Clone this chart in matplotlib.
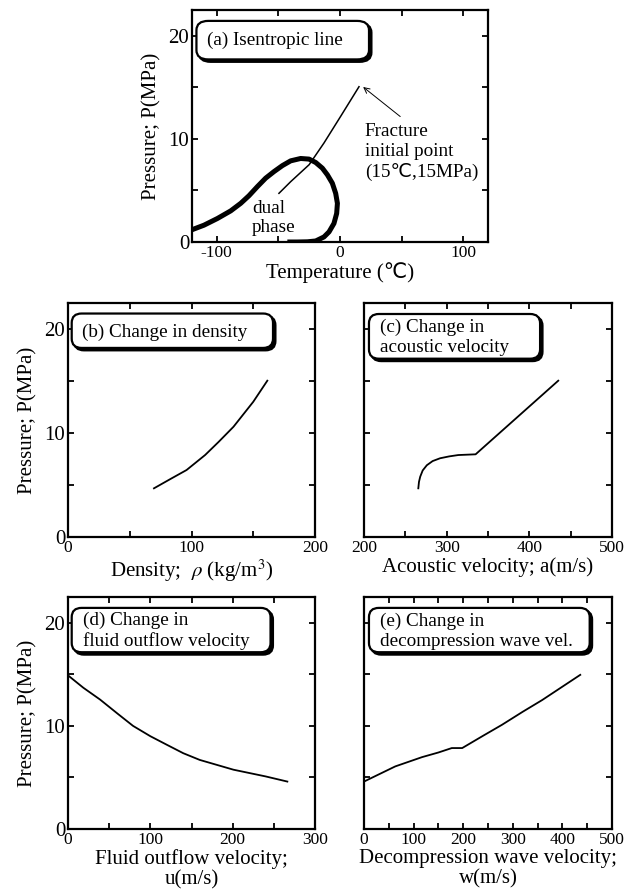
import matplotlib
matplotlib.use("Agg")
import matplotlib.pyplot as plt
from matplotlib.patches import FancyBboxPatch
import matplotlib.transforms as mtransforms

plt.rcParams['font.family'] = ['Liberation Serif', 'DejaVu Sans']
plt.rcParams['mathtext.fontset'] = 'stix'
plt.rcParams['axes.unicode_minus'] = False

# ---------------- data ----------------
# (a) isentropic line
iso_T = [-49.5, -40, -25, -13, 0.6, 15.4]
iso_P = [4.72, 5.85, 7.5, 9.6, 12.2, 15.06]
# (a) two-phase envelope (thick)
dome_T = [-121.1, -110.3, -99.4, -88.6, -80.5, -73.8, -67.0, -60.3, -53.5, -46.7,
          -40.0, -31.9, -25.1, -19.7, -14.3, -10.2, -6.2, -3.5, -2.1, -2.7,
          -4.9, -8.9, -13.0, -19.7, -26.4, -34.5, -42.7]
dome_P = [1.14, 1.63, 2.28, 3.02, 3.75, 4.49, 5.37, 6.19, 6.83, 7.41,
          7.87, 8.10, 8.04, 7.71, 7.16, 6.51, 5.70, 4.72, 3.75, 2.77,
          1.80, 0.98, 0.49, 0.10, 0.02, 0.0, 0.0]
# (b) density
rho = [69.6, 83, 96, 111, 122, 134, 150, 161.4]
rho_P = [4.68, 5.58, 6.44, 7.88, 9.15, 10.6, 13.0, 15.03]
# (c) acoustic velocity
a_vel = [265.7, 266.5, 268, 271, 276, 283, 292, 303, 314, 335, 435]
a_P = [4.68, 5.3, 5.8, 6.4, 6.9, 7.3, 7.57, 7.75, 7.88, 7.95, 15.03]
# (d) fluid outflow velocity
u_vel = [0, 18.6, 39, 60, 79, 100, 120, 140, 160, 201, 240, 266.4]
u_P = [14.9, 13.7, 12.55, 11.2, 10.0, 9.0, 8.17, 7.35, 6.7, 5.75, 5.1, 4.6]
# (e) decompression wave velocity
w_vel = [0, 63, 117, 150, 177, 198, 240, 278, 320, 359, 436]
w_P = [4.6, 6.07, 6.97, 7.42, 7.85, 7.85, 9.04, 10.1, 11.37, 12.5, 14.95]

W, H = 638, 893
fig = plt.figure(figsize=(W / 100, H / 100), dpi=100)

LABFS = 15
BOXFS = 13.8


def make_ax(l, r, t, b):
    return fig.add_axes([l / W, 1 - b / H, (r - l) / W, (b - t) / H])


def style(ax, xlim, xmaj, xmin_, ylim=(0, 22.5)):
    ax.set_xlim(*xlim)
    ax.set_ylim(*ylim)
    ax.set_xticks(xmaj)
    ax.set_xticks(xmin_, minor=True)
    ax.set_yticks([0, 10, 20])
    ax.set_yticks([5, 15], minor=True)
    for s in ax.spines.values():
        s.set_linewidth(1.6)
    ax.tick_params(which='both', direction='in', top=True, right=True,
                   length=4.5, width=1.3)
    ax.tick_params(axis='x', labelsize=12.5, pad=2)
    ax.tick_params(axis='y', labelsize=15, pad=2)


def label_box(ax, x0, y0, x1, y1, text, tx, ty):
    sh = mtransforms.offset_copy(ax.transAxes, fig=fig, x=2.4, y=-2.4, units='dots')
    shadow = FancyBboxPatch((x0, y0), x1 - x0, y1 - y0,
                            boxstyle="round,pad=0,rounding_size=0.04",
                            transform=sh, facecolor='black', edgecolor='black',
                            linewidth=1.6, zorder=5)
    box = FancyBboxPatch((x0, y0), x1 - x0, y1 - y0,
                         boxstyle="round,pad=0,rounding_size=0.04",
                         transform=ax.transAxes, facecolor='white', edgecolor='black',
                         linewidth=1.6, zorder=6)
    ax.add_patch(shadow)
    ax.add_patch(box)
    ax.text(tx, ty, text, transform=ax.transAxes, fontsize=BOXFS, va='center',
            ha='left', zorder=7, linespacing=1.2)


ylab = 'Pressure; P(MPa)'

# ---- (a)
axa = make_ax(192, 488, 10, 242)
style(axa, (-120, 120), [-100, 0, 100], [-50, 50])
axa.plot(dome_T, dome_P, color='black', lw=3.6, solid_joinstyle='round',
         solid_capstyle='butt')
axa.plot(iso_T, iso_P, color='black', lw=1.1)
axa.set_xlabel('Temperature (℃)', fontsize=LABFS, labelpad=1)
axa.set_ylabel(ylab, fontsize=LABFS, labelpad=5)
label_box(axa, 0.015, 0.787, 0.598, 0.953, '(a) Isentropic line', 0.05, 0.87)
axa.annotate('', xy=(17, 15.2), xytext=(50.6, 12.0),
             arrowprops=dict(arrowstyle='->', lw=0.7, color='black',
                             mutation_scale=10))
axa.text(20, 11.5, 'Fracture\ninitial point\n(15℃,15MPa)', fontsize=BOXFS,
         va='top', ha='left', linespacing=1.2)
axa.text(-71.5, 4.1, 'dual\nphase', fontsize=BOXFS, va='top', ha='left',
         linespacing=1.2)

# ---- (b)
axb = make_ax(68, 315, 303, 537)
style(axb, (0, 200), [0, 100, 200], [50, 150])
axb.plot(rho, rho_P, color='black', lw=1.3)
axb.set_xlabel(r'Density;  $\rho$ (kg/m$^3$)', fontsize=LABFS, labelpad=1)
axb.set_ylabel(ylab, fontsize=LABFS, labelpad=5)
label_box(axb, 0.015, 0.808, 0.83, 0.955, '(b) Change in density', 0.055, 0.875)

# ---- (c)
axc = make_ax(364, 612, 303, 537)
style(axc, (200, 500), [200, 300, 400, 500], [250, 350, 450])
axc.tick_params(axis='y', labelleft=False)
axc.plot(a_vel, a_P, color='black', lw=1.3)
axc.set_xlabel('Acoustic velocity; a(m/s)', fontsize=LABFS, labelpad=1)
label_box(axc, 0.02, 0.762, 0.71, 0.953, '(c) Change in\nacoustic velocity', 0.065, 0.853)

# ---- (d)
axd = make_ax(68, 315, 597, 829)
style(axd, (0, 300), [0, 100, 200, 300], [50, 150, 250])
axd.plot(u_vel, u_P, color='black', lw=1.3)
axd.set_xlabel('Fluid outflow velocity;\nu(m/s)', fontsize=LABFS, labelpad=1,
               linespacing=1.05)
axd.set_ylabel(ylab, fontsize=LABFS, labelpad=5)
label_box(axd, 0.015, 0.762, 0.82, 0.953, '(d) Change in\nfluid outflow velocity', 0.062, 0.853)

# ---- (e)
axe = make_ax(364, 612, 597, 829)
style(axe, (0, 500), [0, 100, 200, 300, 400, 500], [50, 150, 250, 350, 450])
axe.tick_params(axis='y', labelleft=False)
axe.plot(w_vel, w_P, color='black', lw=1.3)
axe.set_xlabel('Decompression wave velocity;\nw(m/s)', fontsize=LABFS, labelpad=1,
               linespacing=1.05)
label_box(axe, 0.02, 0.762, 0.91, 0.953, '(e) Change in\ndecompression wave vel.', 0.065, 0.853)

fig.savefig('out.png', dpi=100)
